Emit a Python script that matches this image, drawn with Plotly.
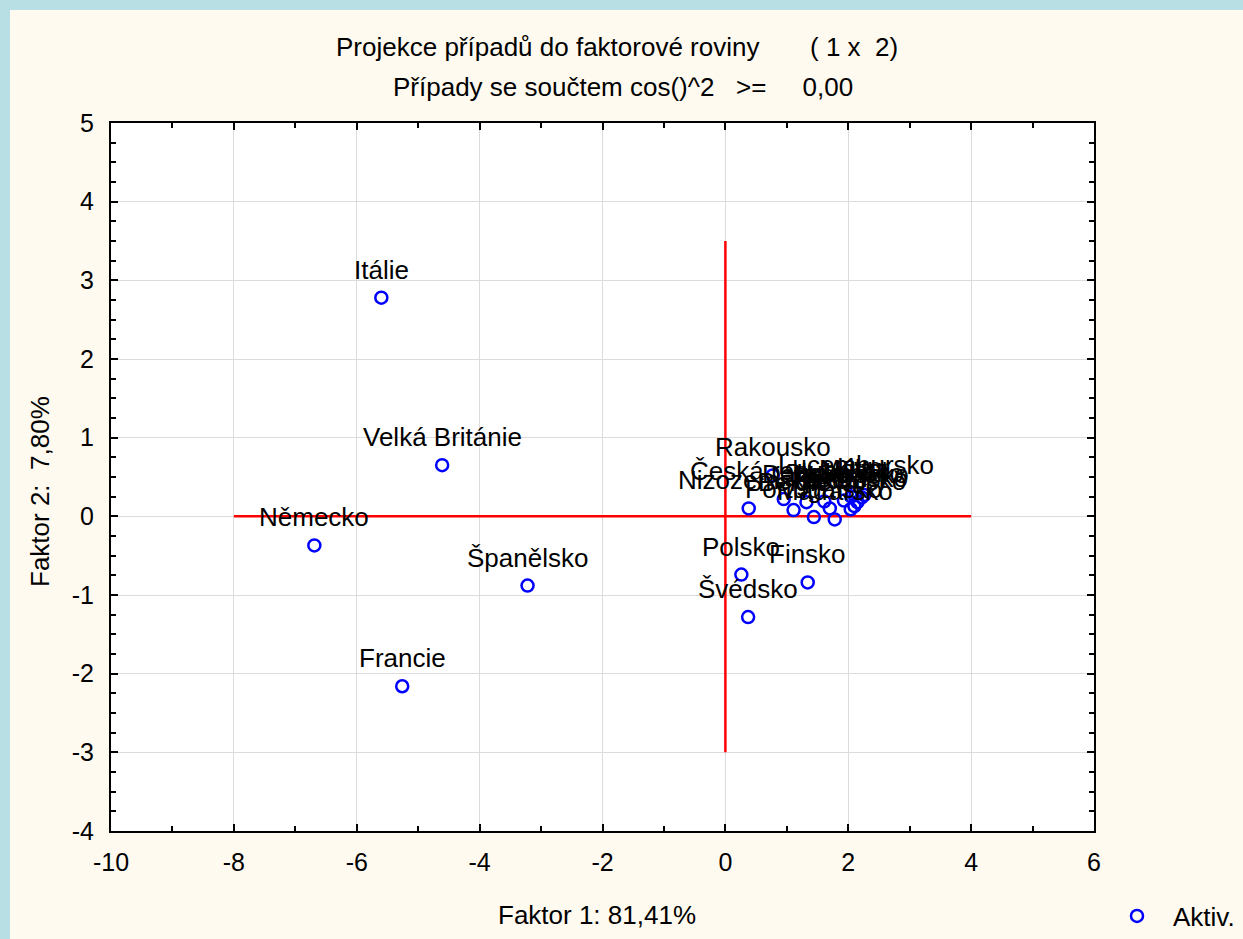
import plotly.graph_objects as go

# ---- data ----
countries = ["Itálie", "Velká Británie", "Německo", "Španělsko", "Francie",
             "Polsko", "Finsko", "Švédsko",
             "Rakousko", "Česká republika", "Nizozemsko", "Lucembursko",
             "Belgie", "Dánsko", "Portugalsko", "Irsko", "Řecko", "Maďarsko",
             "Slovensko", "Slovinsko", "Estonsko", "Lotyšsko", "Litva", "Kypr", "Malta"]
factor1 = [-5.60, -4.61, -6.69, -3.22, -5.26,
           0.26, 1.34, 0.37,
           0.77, 0.95, 0.38, 2.12,
           1.11, 1.32, 1.44, 1.61, 1.70, 1.78,
           1.93, 2.04, 2.10, 2.15, 2.22, 2.26, 2.05]
factor2 = [2.78, 0.65, -0.37, -0.88, -2.16,
           -0.74, -0.84, -1.28,
           0.52, 0.22, 0.10, 0.30,
           0.08, 0.18, -0.01, 0.19, 0.10, -0.04,
           0.20, 0.09, 0.13, 0.18, 0.24, 0.27, 0.25]

# reference cross lines (data coordinates)
hline_x = [-8, 4]
hline_y = [0, 0]
vline_x = [0, 0]
vline_y = [-3, 3.5]

x_ticks = [-10, -8, -6, -4, -2, 0, 2, 4, 6]
x_ticktext = ["-10", "-8", "-6", "-4", "-2", "0", "2", "4", "6"]
y_ticks = [-4, -3, -2, -1, 0, 1, 2, 3, 4, 5]
y_ticktext = ["-4", "-3", "-2", "-1", "0", "1", "2", "3", "4", "5"]

title1 = "Projekce případů do faktorové roviny" + "\u00a0" * 7 + "(\u00a01\u00a0x\u00a0\u00a02)"
title2 = "Případy se součtem cos()^2" + "\u00a0" * 3 + ">=" + "\u00a0" * 5 + "0,00"
xtitle = "Faktor 1: 81,41%"
ytitle = "Faktor 2:\u00a0\u00a07,80%"
legend_name = "Aktiv."

# ---- layout geometry ----
W, H = 1243, 939
L, R, T, B = 111, 149, 123, 108
PW, PH = W - L - R, H - T - B


def px(xp):
    return (xp - L) / PW


def py(yp):
    return (H - B - yp) / PH


FONT = "Liberation Sans, Arial, sans-serif"
TXT = 26
TICK = 25
CREAM = "#FFFAEF"
BLUE = "#B8DFE3"

fig = go.Figure()
fig.add_trace(go.Scatter(x=hline_x, y=hline_y, mode="lines",
                         line=dict(color="#FF0000", width=2.5),
                         showlegend=False, hoverinfo="skip"))
fig.add_trace(go.Scatter(x=vline_x, y=vline_y, mode="lines",
                         line=dict(color="#FF0000", width=2.5),
                         showlegend=False, hoverinfo="skip"))
fig.add_trace(go.Scatter(
    x=factor1, y=factor2, mode="markers",
    marker=dict(symbol="circle-open", size=12, color="#0000FF",
                line=dict(width=2.5, color="#0000FF")),
    name=legend_name, showlegend=True))

axis_common = dict(showline=True, linecolor="black", linewidth=2, mirror="ticks",
                   ticks="inside", ticklen=7, tickwidth=2, tickcolor="black",
                   showgrid=True, gridcolor="#DCDCDC", gridwidth=1,
                   zeroline=False,
                   tickfont=dict(family=FONT, size=TICK, color="black"))

fig.update_xaxes(range=[-10, 6], tickvals=x_ticks, ticktext=x_ticktext,
                 minor=dict(dtick=1, tick0=0, ticks="inside", ticklen=5,
                            tickwidth=2, tickcolor="black", showgrid=False),
                 ticklabelstandoff=8,
                 **axis_common)
fig.update_yaxes(range=[-4, 5], tickvals=y_ticks, ticktext=y_ticktext,
                 minor=dict(dtick=0.25, tick0=0, ticks="inside", ticklen=5,
                            tickwidth=2, tickcolor="black", showgrid=False),
                 ticklabelstandoff=10,
                 **axis_common)

shapes = [
    dict(type="rect", xref="paper", yref="paper", layer="below",
         x0=px(0), x1=px(10), y0=py(H), y1=py(0),
         fillcolor=BLUE, line=dict(width=0)),
    dict(type="rect", xref="paper", yref="paper", layer="below",
         x0=px(0), x1=px(W), y0=py(10), y1=py(0),
         fillcolor=BLUE, line=dict(width=0)),
]

annotations = [
    dict(text=title1, xref="paper", yref="paper", x=px(617), y=py(47),
         xanchor="center", yanchor="middle", showarrow=False,
         font=dict(family=FONT, size=TXT, color="black")),
    dict(text=title2, xref="paper", yref="paper", x=px(623), y=py(87),
         xanchor="center", yanchor="middle", showarrow=False,
         font=dict(family=FONT, size=TXT, color="black")),
    dict(text=xtitle, xref="paper", yref="paper", x=px(597), y=py(915),
         xanchor="center", yanchor="middle", showarrow=False,
         font=dict(family=FONT, size=TXT, color="black")),
    dict(text=ytitle, xref="paper", yref="paper", x=px(40), y=py(492),
         xanchor="center", yanchor="middle", showarrow=False, textangle=-90,
         font=dict(family=FONT, size=TXT, color="black")),
]
# point labels, centred above each point
for name, fx, fy in zip(countries, factor1, factor2):
    annotations.append(dict(text=name, x=fx, y=fy, xref="x", yref="y",
                            showarrow=False, xanchor="center", yanchor="middle",
                            yshift=28,
                            font=dict(family=FONT, size=TXT, color="black")))

fig.update_layout(
    width=W, height=H,
    margin=dict(l=L, r=R, t=T, b=B, pad=0, autoexpand=False),
    paper_bgcolor=CREAM, plot_bgcolor="white",
    shapes=shapes, annotations=annotations,
    showlegend=True,
    legend=dict(x=px(1101), y=py(916), xanchor="left", yanchor="middle",
                itemwidth=62,
                bgcolor="rgba(0,0,0,0)", borderwidth=0,
                font=dict(family=FONT, size=TXT, color="black")),
    font=dict(family=FONT),
)

fig.write_html("out.html", config={"displayModeBar": False},
               post_script="document.body.style.margin='0';document.body.style.overflow='hidden';")
